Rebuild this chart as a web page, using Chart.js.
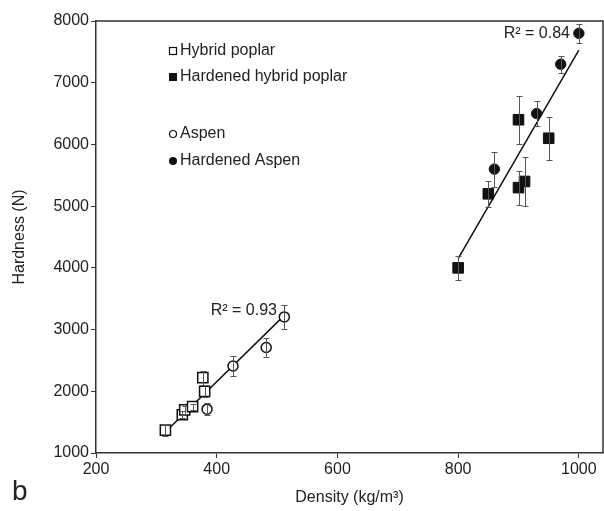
<!DOCTYPE html>
<html>
<head>
<meta charset="utf-8">
<script src="https://cdn.jsdelivr.net/npm/chart.js@4.4.1/dist/chart.umd.min.js"></script>
<style>
  html, body { margin: 0; padding: 0; background: #fff; }
  #wrap { width: 604px; height: 511px; }
</style>
</head>
<body>
<div id="wrap"><canvas id="chart" width="604" height="511"></canvas></div>
<script>
// Hybrid poplar (open squares)
const hpX = [315, 343, 347, 360, 377, 380];
const hpY = [1370, 1620, 1700, 1750, 2220, 2000];
const hpErr = [100, 60, 60, 50, 115, 100];

// Hardened hybrid poplar (filled squares)
const hhpX = [800, 850, 900, 900, 910, 950];
const hhpY = [4000, 5200, 6400, 5300, 5400, 6100];
const hhpErr = [195, 215, 390, 275, 400, 350];

// Aspen (open circles)
const aX = [384, 427, 482, 512];
const aY = [1710, 2410, 2710, 3205];
const aErr = [100, 165, 150, 190];

// Hardened aspen (filled circles)
const haX = [860, 930, 970, 1000];
const haY = [5600, 6500, 7300, 7800];
const haErr = [285, 200, 140, 150];

// regression lines
const lowFitX = [315, 512];
const lowFitY = [1340, 3230];
const highFitX = [800, 1000];
const highFitY = [4150, 7530];

const xTicks = [200, 400, 600, 800, 1000];
const yTicks = [1000, 2000, 3000, 4000, 5000, 6000, 7000, 8000];

const legendItems = ['Hybrid poplar', 'Hardened hybrid poplar', 'Aspen', 'Hardened Aspen'];
const r2Labels = ['R\u00b2 = 0.93', 'R\u00b2 = 0.84'];

const FONT = '"Liberation Sans", Arial, sans-serif';
const TXT = '#222';

function pts(xs, ys) {
    return xs.map((v, i) => ({ x: v, y: ys[i] }));
}

const errSets = [
    { x: hpX, y: hpY, e: hpErr },
    { x: hhpX, y: hhpY, e: hhpErr },
    { x: aX, y: aY, e: aErr },
    { x: haX, y: haY, e: haErr }
];

// error bars, frame, legend and labels
const extras = {
    id: 'extras',
    afterDatasetsDraw(chart) {
        const { ctx, chartArea: a, scales: { x, y } } = chart;
        ctx.save();
        // frame top and right
        ctx.strokeStyle = '#333';
        ctx.lineWidth = 1.5;
        ctx.beginPath();
        ctx.moveTo(a.left, a.top);
        ctx.lineTo(a.right, a.top);
        ctx.lineTo(a.right, a.bottom);
        ctx.stroke();

        // error bars
        ctx.strokeStyle = '#555';
        ctx.lineWidth = 1;
        errSets.forEach(s => {
            s.x.forEach((v, i) => {
                const px = Math.round(x.getPixelForValue(v)) + 0.5;
                const t = Math.round(y.getPixelForValue(s.y[i] + s.e[i])) + 0.5;
                const b = Math.round(y.getPixelForValue(s.y[i] - s.e[i])) + 0.5;
                ctx.beginPath();
                ctx.moveTo(px, t); ctx.lineTo(px, b);
                ctx.moveTo(px - 3, t); ctx.lineTo(px + 3, t);
                ctx.moveTo(px - 3, b); ctx.lineTo(px + 3, b);
                ctx.stroke();
            });
        });

        // legend
        ctx.font = '16px ' + FONT;
        ctx.fillStyle = TXT;
        ctx.textBaseline = 'middle';
        ctx.textAlign = 'left';
        const rows = [51, 77, 134, 161];
        legendItems.forEach((t, i) => {
            const cy = rows[i];
            ctx.strokeStyle = '#111';
            ctx.fillStyle = '#111';
            ctx.lineWidth = 1.2;
            if (i === 0) ctx.strokeRect(169.5, cy - 3.5, 7, 7);
            if (i === 1) ctx.fillRect(169, cy - 4, 8, 8);
            if (i === 2) { ctx.beginPath(); ctx.arc(173, cy, 3.5, 0, Math.PI * 2); ctx.stroke(); }
            if (i === 3) { ctx.beginPath(); ctx.arc(173, cy, 4, 0, Math.PI * 2); ctx.fill(); }
            ctx.fillStyle = TXT;
            ctx.fillText(t, 180, cy);
        });

        // R2 labels
        ctx.textAlign = 'right';
        ctx.fillText(r2Labels[0], 277, 311);
        ctx.fillText(r2Labels[1], 570, 34);

        // panel letter
        ctx.textAlign = 'left';
        ctx.textBaseline = 'alphabetic';
        ctx.font = '28px ' + FONT;
        ctx.fillText('b', 12, 500);
        ctx.restore();
    }
};

const ctx = document.getElementById('chart').getContext('2d');

new Chart(ctx, {
    type: 'scatter',
    data: {
        datasets: [
            {
                label: 'Hybrid poplar',
                data: pts(hpX, hpY),
                pointStyle: 'rect',
                pointRadius: 7.2,
                borderWidth: 1.5,
                borderColor: '#111',
                backgroundColor: '#fff'
            },
            {
                label: 'Hardened hybrid poplar',
                data: pts(hhpX, hhpY),
                pointStyle: 'rect',
                pointRadius: 7.5,
                borderWidth: 1,
                borderColor: '#111',
                backgroundColor: '#111'
            },
            {
                label: 'Aspen',
                data: pts(aX, aY),
                pointStyle: 'circle',
                pointRadius: 5,
                borderWidth: 1.5,
                borderColor: '#111',
                backgroundColor: '#fff'
            },
            {
                label: 'Hardened Aspen',
                data: pts(haX, haY),
                pointStyle: 'circle',
                pointRadius: 5.2,
                borderWidth: 1,
                borderColor: '#111',
                backgroundColor: '#111'
            },
            {
                type: 'line',
                label: 'fit low',
                data: pts(lowFitX, lowFitY),
                borderColor: '#111',
                borderWidth: 1.5,
                pointRadius: 0,
                fill: false
            },
            {
                type: 'line',
                label: 'fit high',
                data: pts(highFitX, highFitY),
                borderColor: '#111',
                borderWidth: 1.5,
                pointRadius: 0,
                fill: false
            }
        ]
    },
    options: {
        responsive: false,
        devicePixelRatio: 1,
        animation: false,
        layout: { autoPadding: false, padding: { top: 21, right: 1, left: 0, bottom: 0 } },
        plugins: {
            legend: { display: false },
            tooltip: { enabled: false }
        },
        scales: {
            x: {
                type: 'linear',
                min: 200,
                max: 1040,
                afterBuildTicks: s => { s.ticks = xTicks.map(v => ({ value: v })); },
                afterFit: s => { s.height = 58; s.paddingRight = 0; s.paddingLeft = 0; },
                grid: { drawOnChartArea: false, drawTicks: true, tickLength: 5, color: '#333', lineWidth: 1 },
                border: { display: true, color: '#333', width: 1.5 },
                ticks: { color: TXT, font: { family: FONT, size: 16 }, padding: 2, maxRotation: 0, callback: v => String(v) },
                title: { display: true, text: 'Density (kg/m\u00b3)', color: TXT, font: { family: FONT, size: 16 }, padding: { bottom: 4 } }
            },
            y: {
                type: 'linear',
                min: 1000,
                max: 8000,
                afterBuildTicks: s => { s.ticks = yTicks.map(v => ({ value: v })); },
                afterFit: s => { s.width = 96; s.paddingTop = 0; s.paddingBottom = 0; },
                grid: { drawOnChartArea: false, drawTicks: true, tickLength: 5, color: '#333', lineWidth: 1 },
                border: { display: true, color: '#333', width: 1.5 },
                ticks: { color: TXT, font: { family: FONT, size: 16 }, padding: 2, callback: v => String(v) },
                title: { display: true, text: 'Hardness (N)', color: TXT, font: { family: FONT, size: 16 }, padding: { top: 10 } }
            }
        }
    },
    plugins: [extras]
});
</script>
</body>
</html>
